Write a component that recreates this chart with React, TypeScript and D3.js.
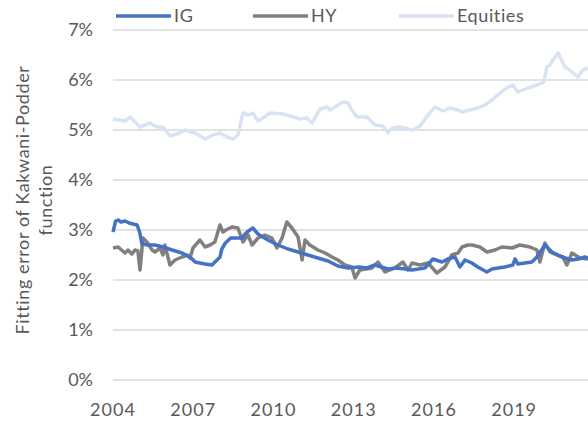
import { useRef, useEffect } from 'react';
import * as d3 from 'd3';

type Pt = [number, number];

// decimal year, fitting error in %
const igSeries: Pt[] = [
  [2004.0, 2.96], [2004.1, 3.18], [2004.19, 3.2], [2004.3, 3.16], [2004.45, 3.18], [2004.6, 3.14], [2004.9, 3.1],
  [2005.0, 2.95], [2005.08, 2.72], [2005.3, 2.7], [2005.57, 2.7], [2005.87, 2.66], [2006.21, 2.6],
  [2006.58, 2.54], [2006.88, 2.46], [2007.07, 2.36], [2007.25, 2.34], [2007.44, 2.32], [2007.7, 2.3],
  [2007.89, 2.4], [2008.0, 2.46], [2008.07, 2.62], [2008.2, 2.74], [2008.4, 2.84], [2008.6, 2.84],
  [2008.82, 2.84], [2009.01, 2.96], [2009.23, 3.04], [2009.42, 2.92], [2009.6, 2.86], [2009.79, 2.8],
  [2010.17, 2.7], [2010.54, 2.62], [2010.92, 2.56], [2011.29, 2.5], [2011.66, 2.44], [2012.04, 2.38],
  [2012.41, 2.28], [2012.79, 2.24], [2013.2, 2.26], [2013.5, 2.24], [2013.79, 2.3], [2014.28, 2.22],
  [2014.6, 2.24], [2014.92, 2.22], [2015.18, 2.2], [2015.66, 2.24], [2015.96, 2.42], [2016.3, 2.36],
  [2016.52, 2.42], [2016.79, 2.46], [2016.97, 2.26], [2017.16, 2.4], [2017.42, 2.34], [2017.64, 2.26],
  [2017.98, 2.16], [2018.17, 2.22], [2018.4, 2.24], [2018.65, 2.26], [2018.95, 2.3], [2019.03, 2.42],
  [2019.14, 2.32], [2019.4, 2.34], [2019.66, 2.36], [2019.85, 2.46], [2020.15, 2.7], [2020.41, 2.56],
  [2020.79, 2.46], [2021.16, 2.4], [2021.4, 2.42], [2021.64, 2.46], [2021.76, 2.44],
];

const hySeries: Pt[] = [
  [2004.0, 2.64], [2004.19, 2.66], [2004.45, 2.54], [2004.56, 2.6], [2004.71, 2.52], [2004.82, 2.6],
  [2004.93, 2.58], [2005.01, 2.2], [2005.12, 2.84], [2005.27, 2.76], [2005.46, 2.6], [2005.57, 2.56],
  [2005.76, 2.64], [2005.87, 2.5], [2005.94, 2.7], [2006.13, 2.3], [2006.32, 2.4], [2006.58, 2.46],
  [2006.77, 2.5], [2006.88, 2.44], [2006.99, 2.64], [2007.25, 2.8], [2007.44, 2.66], [2007.63, 2.7],
  [2007.81, 2.76], [2008.0, 3.1], [2008.11, 2.96], [2008.22, 3.0], [2008.45, 3.06], [2008.67, 3.04],
  [2008.86, 2.76], [2009.05, 2.9], [2009.2, 2.7], [2009.42, 2.84], [2009.68, 2.9], [2009.94, 2.84],
  [2010.13, 2.64], [2010.32, 2.84], [2010.5, 3.16], [2010.69, 3.04], [2010.92, 2.86], [2011.07, 2.4],
  [2011.18, 2.8], [2011.36, 2.7], [2011.66, 2.6], [2011.93, 2.54], [2012.19, 2.46], [2012.41, 2.4],
  [2012.67, 2.3], [2012.93, 2.26], [2013.05, 2.04], [2013.23, 2.2], [2013.68, 2.24], [2013.91, 2.36],
  [2014.17, 2.16], [2014.54, 2.24], [2014.84, 2.36], [2015.03, 2.2], [2015.18, 2.34], [2015.48, 2.3],
  [2015.78, 2.34], [2016.11, 2.14], [2016.41, 2.26], [2016.67, 2.5], [2016.9, 2.54], [2017.05, 2.66],
  [2017.27, 2.7], [2017.42, 2.7], [2017.72, 2.66], [2017.98, 2.56], [2018.28, 2.6], [2018.54, 2.66],
  [2018.92, 2.64], [2019.21, 2.7], [2019.59, 2.66], [2019.85, 2.6], [2019.96, 2.36], [2020.15, 2.74],
  [2020.34, 2.56], [2020.6, 2.5], [2020.82, 2.46], [2020.97, 2.3], [2021.16, 2.54], [2021.46, 2.44],
  [2021.76, 2.42],
];

const eqSeries: Pt[] = [
  [2004.0, 5.22], [2004.45, 5.18], [2004.64, 5.26], [2005.01, 5.06], [2005.2, 5.1], [2005.38, 5.14],
  [2005.64, 5.06], [2005.87, 5.06], [2006.13, 4.88], [2006.5, 4.94], [2006.69, 5.0], [2007.07, 4.94],
  [2007.44, 4.82], [2007.74, 4.9], [2008.0, 4.94], [2008.26, 4.86], [2008.49, 4.82], [2008.67, 4.9],
  [2008.86, 5.34], [2009.05, 5.3], [2009.23, 5.34], [2009.42, 5.18], [2009.61, 5.24], [2009.87, 5.34],
  [2010.36, 5.32], [2010.62, 5.28], [2010.99, 5.22], [2011.25, 5.24], [2011.44, 5.14], [2011.74, 5.42],
  [2012.0, 5.46], [2012.11, 5.4], [2012.6, 5.56], [2012.8, 5.54], [2012.93, 5.4], [2013.12, 5.26],
  [2013.5, 5.26], [2013.79, 5.1], [2014.09, 5.08], [2014.28, 4.94], [2014.43, 5.04], [2014.73, 5.06],
  [2015.03, 5.02], [2015.21, 5.0], [2015.48, 5.08], [2015.78, 5.3], [2016.04, 5.46], [2016.34, 5.38],
  [2016.6, 5.44], [2016.9, 5.4], [2017.05, 5.36], [2017.35, 5.4], [2017.64, 5.44], [2017.91, 5.5],
  [2018.17, 5.6], [2018.47, 5.74], [2018.77, 5.86], [2018.95, 5.9], [2019.14, 5.76], [2019.51, 5.84],
  [2019.85, 5.9], [2020.11, 5.96], [2020.22, 6.26], [2020.34, 6.3], [2020.45, 6.4], [2020.64, 6.54],
  [2020.9, 6.26], [2021.08, 6.2], [2021.2, 6.14], [2021.38, 6.06], [2021.57, 6.2], [2021.76, 6.24],
];

const yTicks = [0, 1, 2, 3, 4, 5, 6, 7];
const xTicks = [2004, 2007, 2010, 2013, 2016, 2019];
const legendItems = [
  { name: 'IG', color: '#4472c4' },
  { name: 'HY', color: '#808080' },
  { name: 'Equities', color: '#dae3f3' },
];

export default function App() {
  const svgRef = useRef<SVGSVGElement>(null);

  useEffect(() => {
    document.body.style.margin = '0';
    if (!svgRef.current) return;
    const svg = d3.select(svgRef.current);
    svg.selectAll('*').remove();

    const width = 588;
    const height = 426;
    const margin = { top: 30, right: 0, bottom: 46, left: 113 };
    const font = 'Lato, sans-serif';
    const textColor = '#595959';

    const x = d3.scaleLinear().domain([2004, 2021.76]).range([margin.left, width - margin.right]);
    const y = d3.scaleLinear().domain([0, 7]).range([height - margin.bottom, margin.top]);

    // gridlines
    svg.append('g')
      .selectAll('line')
      .data(yTicks)
      .join('line')
      .attr('x1', margin.left)
      .attr('x2', width)
      .attr('y1', (d) => y(d))
      .attr('y2', (d) => y(d))
      .attr('stroke', '#d9d9d9')
      .attr('stroke-width', 1.5);

    svg.append('g')
      .selectAll('text')
      .data(yTicks)
      .join('text')
      .attr('x', 93)
      .attr('y', (d) => y(d))
      .attr('dy', '0.36em')
      .attr('text-anchor', 'end')
      .attr('fill', textColor)
      .style('font-family', font)
      .style('font-size', '18px')
      .text((d) => `${d}%`);

    svg.append('g')
      .selectAll('text')
      .data(xTicks)
      .join('text')
      .attr('x', (d) => x(d))
      .attr('y', 416)
      .attr('text-anchor', 'middle')
      .attr('fill', textColor)
      .style('font-family', font)
      .style('font-size', '18px')
      .style('letter-spacing', '1px')
      .text((d) => d);

    // axis title
    const title = svg.append('text')
      .attr('transform', 'translate(0,200) rotate(-90)')
      .attr('text-anchor', 'middle')
      .attr('fill', textColor)
      .style('font-family', font)
      .style('font-size', '18px')
      .style('letter-spacing', '0.6px');
    title.append('tspan').attr('x', 0).attr('y', 29).text('Fitting error of Kakwani-Podder');
    title.append('tspan').attr('x', 0).attr('y', 52).text('function');

    const line = d3.line<Pt>().x((d) => x(d[0])).y((d) => y(d[1]));
    const plot = svg.append('g');
    [eqSeries, hySeries, igSeries].forEach((s, i) => {
      const color = [legendItems[2].color, legendItems[1].color, legendItems[0].color][i];
      plot.append('path')
        .datum(s)
        .attr('d', line)
        .attr('fill', 'none')
        .attr('stroke', color)
        .attr('stroke-width', 3.5)
        .attr('stroke-linejoin', 'round');
    });

    // legend
    const legendX = [116, 253, 399];
    const lg = svg.append('g');
    legendItems.forEach((item, i) => {
      lg.append('line')
        .attr('x1', legendX[i])
        .attr('x2', legendX[i] + 55)
        .attr('y1', 16)
        .attr('y2', 16)
        .attr('stroke', item.color)
        .attr('stroke-width', 3.5);
      lg.append('text')
        .attr('x', legendX[i] + 58)
        .attr('y', 16)
        .attr('dy', '0.36em')
        .attr('fill', textColor)
        .style('font-family', font)
        .style('font-size', '18px')
        .style('letter-spacing', '0.6px')
        .text(item.name);
    });
  }, []);

  return <svg ref={svgRef} width={588} height={426} style={{ display: 'block' }} />;
}
